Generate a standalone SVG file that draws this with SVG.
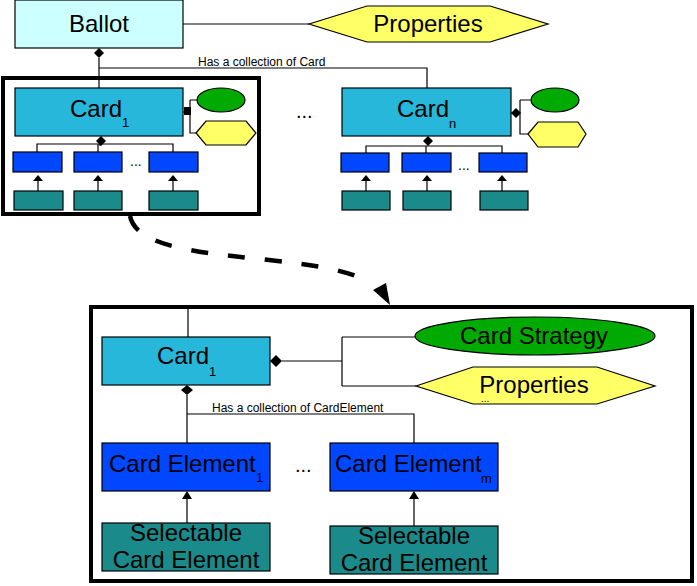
<svg xmlns="http://www.w3.org/2000/svg" width="697" height="586" viewBox="0 0 697 586">
<style>
text{font-family:"Liberation Sans",Arial,sans-serif;fill:#000}
.big{font-size:24px}
.sub{font-size:13px}
.lbl{font-size:12px}
.dots{font-size:20px}
.sdots{font-size:14px}
.ln{fill:none;stroke:#000;stroke-width:1.2}
.frame{fill:none;stroke:#000;stroke-width:4}
.bx{stroke:#000;stroke-width:1.2}
.ballot{fill:#ccffff}
.card{fill:#26b7db}
.elem{fill:#0047ff}
.sel{fill:#1a8a8a}
.strat{fill:#00aa00}
.prop{fill:#ffff66}
.dia{fill:#000}
</style>
<g id="frame-top"><rect class="frame" x="3" y="78" width="256" height="136"/></g>
<g id="frame-bottom"><rect class="frame" x="91" y="307" width="601" height="274"/></g>

<g id="connectors">
  <path class="ln" d="M183,24 H309"/>
  <path class="ln" d="M99,58 V88 M99,68 H427 V88"/>
  <polygon class="dia" points="99,48 104,53 99,58 94,53"/>
  <path class="ln" d="M183,112 H190 M190,100 H197 M190,100 V133 H196"/>
  <rect class="dia" x="184" y="107" width="7" height="8"/>
  <path class="ln" d="M511,113 H520 M520,100 H531 M520,100 V134 H528"/>
  <polygon class="dia" points="511,113 516,108 521,113 516,118"/>
  <path class="ln" d="M100,146 V144 M37,152 V144 H173 V152 M98,144 V152"/>
  <polygon class="dia" points="101,136 106,141 101,146 96,141"/>
  <path class="ln" d="M38,181 V191 M98,181 V191 M173,181 V191"/>
  <polygon class="dia" points="38,175 43,181 33,181"/>
  <polygon class="dia" points="98,175 103,181 93,181"/>
  <polygon class="dia" points="173,175 178,181 168,181"/>
  <path class="ln" d="M366,153 V146 H502 V153 M426,146 V153"/>
  <polygon class="dia" points="428,136 433,141 428,146 423,141"/>
  <path class="ln" d="M366,181 V191 M427,181 V191 M502,181 V191"/>
  <polygon class="dia" points="366,175 371,181 361,181"/>
  <polygon class="dia" points="427,175 432,181 422,181"/>
  <polygon class="dia" points="502,175 507,181 497,181"/>
  <path d="M130,216 C140,266 300,250 363,279" fill="none" stroke="#000" stroke-width="4.5" stroke-dasharray="17,20"/>
  <polygon class="dia" points="390,305 373,290 386,283"/>
  <path class="ln" d="M188,307 V337"/>
  <path class="ln" d="M282,361 H342 M342,337 V386 M342,337 H415 M342,386 H416"/>
  <polygon class="dia" points="270,361 276,355 282,361 276,367"/>
  <path class="ln" d="M187,395 V443 M187,414 H414 V443"/>
  <polygon class="dia" points="187,385 193,390 187,395 181,390"/>
  <path class="ln" d="M187,499 V523 M414,499 V526"/>
  <polygon class="dia" points="187,491 192,499 182,499"/>
  <polygon class="dia" points="414,491 419,499 409,499"/>
</g>

<g id="lbl-cards"><text class="lbl" x="198" y="66">Has a collection of Card</text></g>
<g id="lbl-elems"><text class="lbl" x="212" y="412">Has a collection of CardElement</text></g>

<g id="ballot">
  <rect class="bx ballot" x="15" y="0" width="168" height="48"/>
  <text class="big" x="99" y="32" text-anchor="middle">Ballot</text>
</g>
<g id="properties-top">
  <polygon class="bx prop" points="309,24 367,6 490,6 548,24 490,42 367,42"/>
  <text class="big" x="428" y="32" text-anchor="middle">Properties</text>
</g>

<g id="card1">
  <rect class="bx card" x="15" y="88" width="168" height="48"/>
  <text class="big" x="70" y="117">Card</text>
  <text class="sub" x="122" y="127">1</text>
</g>
<g id="card1-strategy"><ellipse class="bx strat" cx="221" cy="100" rx="24" ry="12"/></g>
<g id="card1-props"><polygon class="bx prop" points="196,133 206,121 246,121 256,133 246,145 206,145"/></g>
<g id="card1-e1"><rect class="bx elem" x="13" y="152" width="49" height="20"/></g>
<g id="card1-e2"><rect class="bx elem" x="74" y="152" width="48" height="20"/></g>
<g id="card1-e3"><rect class="bx elem" x="149" y="152" width="49" height="20"/></g>
<g id="card1-s1"><rect class="bx sel" x="14" y="191" width="49" height="19"/></g>
<g id="card1-s2"><rect class="bx sel" x="74" y="191" width="48" height="19"/></g>
<g id="card1-s3"><rect class="bx sel" x="149" y="191" width="49" height="19"/></g>
<g id="card1-dots"><text class="sdots" x="130" y="166">...</text></g>

<g id="cards-dots"><text class="dots" x="296" y="118">...</text></g>

<g id="cardn">
  <rect class="bx card" x="342" y="88" width="169" height="48"/>
  <text class="big" x="397" y="117">Card</text>
  <text class="sub" x="449" y="128">n</text>
</g>
<g id="cardn-strategy"><ellipse class="bx strat" cx="555" cy="100" rx="24" ry="12"/></g>
<g id="cardn-props"><polygon class="bx prop" points="528,134 538,122 578,122 586,134 578,147 538,147"/></g>
<g id="cardn-e1"><rect class="bx elem" x="341" y="153" width="48" height="19"/></g>
<g id="cardn-e2"><rect class="bx elem" x="402" y="153" width="49" height="19"/></g>
<g id="cardn-e3"><rect class="bx elem" x="479" y="153" width="48" height="19"/></g>
<g id="cardn-s1"><rect class="bx sel" x="342" y="191" width="48" height="19"/></g>
<g id="cardn-s2"><rect class="bx sel" x="403" y="191" width="48" height="19"/></g>
<g id="cardn-s3"><rect class="bx sel" x="480" y="191" width="48" height="19"/></g>
<g id="cardn-dots"><text class="sdots" x="458" y="170">...</text></g>

<g id="big-card1">
  <rect class="bx card" x="102" y="337" width="168" height="48"/>
  <text class="big" x="157" y="364">Card</text>
  <text class="sub" x="209" y="376">1</text>
</g>
<g id="card-strategy">
  <ellipse class="bx strat" cx="535" cy="336" rx="120" ry="19"/>
  <text class="big" x="534" y="344" text-anchor="middle">Card Strategy</text>
</g>
<g id="properties-bottom">
  <polygon class="bx prop" points="416,386 473,367 597,367 655,386 597,404 473,404"/>
  <text class="big" x="534" y="393" text-anchor="middle">Properties</text>
  <text style="font-size:10px" x="481" y="402">...</text>
</g>
<g id="card-element-1">
  <rect class="bx elem" x="102" y="443" width="168" height="48"/>
  <text class="big" x="109" y="472">Card Element</text>
  <text class="sub" x="256" y="482">1</text>
</g>
<g id="elems-dots"><text class="dots" x="295" y="472">...</text></g>
<g id="card-element-m">
  <rect class="bx elem" x="330" y="443" width="168" height="48"/>
  <text class="big" x="335" y="472">Card Element</text>
  <text class="sub" x="481" y="483">m</text>
</g>
<g id="selectable-1">
  <rect class="bx sel" x="102" y="523" width="168" height="48"/>
  <text class="big" x="186" y="541" text-anchor="middle">Selectable</text>
  <text class="big" x="186" y="568" text-anchor="middle">Card Element</text>
</g>
<g id="selectable-m">
  <rect class="bx sel" x="330" y="526" width="168" height="48"/>
  <text class="big" x="414" y="544" text-anchor="middle">Selectable</text>
  <text class="big" x="414" y="571" text-anchor="middle">Card Element</text>
</g>
</svg>
